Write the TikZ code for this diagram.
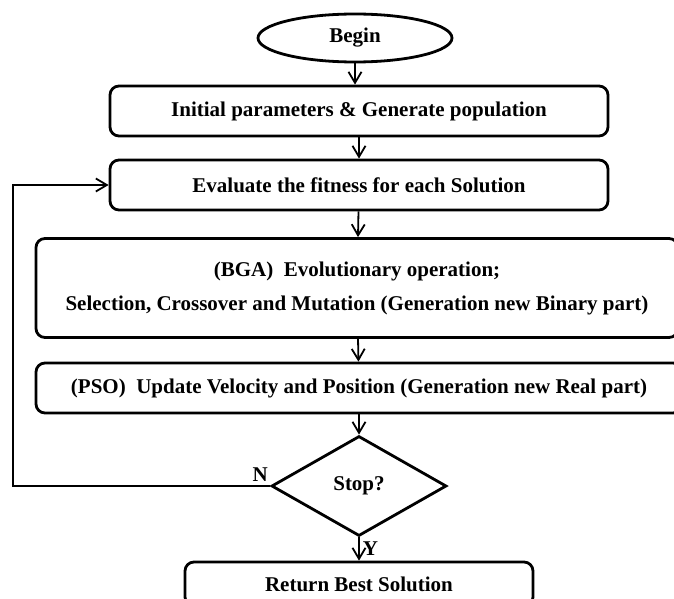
\documentclass[tikz,border=0pt]{standalone}
\usepackage{fontspec}
\setmainfont{Liberation Serif}
\usetikzlibrary{arrows.meta,positioning,shapes.geometric}
\tikzset{
  box/.style={draw=black,line width=2.8pt,rounded corners=9pt,fill=white,inner sep=2pt,align=center,font=\fontsize{21}{25}\selectfont\bfseries,minimum height=50pt},
  start/.style={box,ellipse,rounded corners=0pt},
  decide/.style={box,diamond,rounded corners=0pt,inner sep=0pt,minimum width=175pt,minimum height=100pt},
  lbl/.style={font=\fontsize{21}{25}\selectfont\bfseries,inner sep=0pt},
  ar/.style={-{Straight Barb[length=11pt,width=13pt,line width=1.8pt]},draw=black,line width=1.8pt},
  loop/.style={-{Straight Barb[length=11pt,width=13pt,line width=1.8pt]},draw=black,line width=2.8pt},
}
\begin{document}
\begin{tikzpicture}[x=1pt,y=-1pt]
  \clip (0,0) rectangle (674,599);
  \node[start,minimum width=194pt,minimum height=48pt] (begin) at (355,38) {Begin};
  \node[box,minimum width=498pt] (init) at (359,111) {Initial parameters \& Generate population};
  \node[box,minimum width=498pt] (eval) at (359,185) {Evaluate the fitness for each Solution};
  \node[box,minimum width=642pt,minimum height=99pt] (bga) at (357,288)
    {(BGA)\ \ Evolutionary operation;\\[9pt]
     Selection, Crossover and Mutation (Generation new Binary part)};
  \node[box,minimum width=646pt] (pso) at (359,388) {(PSO)\ \ Update Velocity and Position (Generation new Real part)};
  \node[decide] (stop) at (359,486) {Stop?};
  \node[box,minimum width=348pt,minimum height=44pt] (ret) at (359,584) {Return Best Solution};
  \coordinate (back) at (13,486);

  \draw[ar] (begin.south) -- (begin.south |- init.north);
  \draw[ar] (init) -- (eval); \draw[ar] (eval) -- (bga);
  \draw[ar] (bga) -- (pso); \draw[ar] (pso) -- (stop);
  \draw[ar] (stop) -- node[lbl,right=3pt]{Y} (ret);
  \draw[loop] (stop.west) -- (back) |- (eval.west);
  \node[lbl,above left=4pt and 2pt of stop.west] (no) {N};
\end{tikzpicture}
\end{document}
